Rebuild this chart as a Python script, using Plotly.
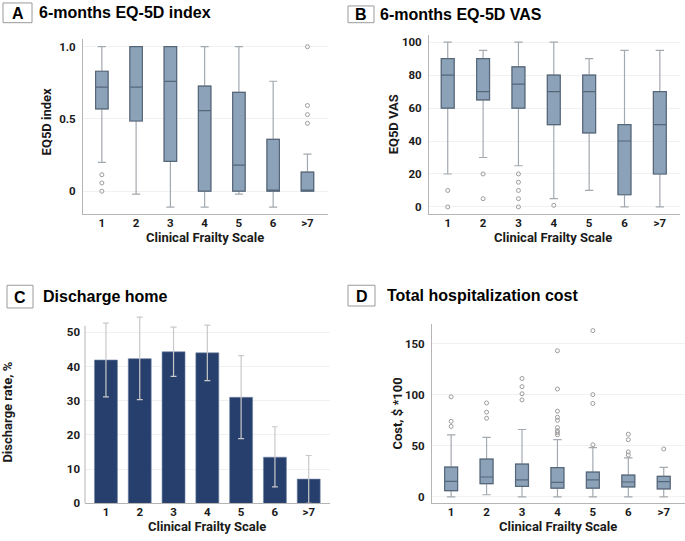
import plotly.graph_objects as go

cats = ["1", "2", "3", "4", "5", "6", ">7"]

# Panel A: EQ-5D index
a_low = [0.20, -0.02, -0.11, -0.11, -0.02, -0.11, 0.0]
a_q1 = [0.57, 0.486, 0.207, 0.0, 0.0, 0.0, 0.0]
a_med = [0.72, 0.72, 0.76, 0.557, 0.18, 0.0, 0.0]
a_q3 = [0.83, 1.0, 1.0, 0.727, 0.684, 0.359, 0.132]
a_up = [1.0, 1.0, 1.0, 1.0, 1.0, 0.761, 0.257]
a_out_x = ["1", "1", "1", ">7", ">7", ">7", ">7"]
a_out_y = [0.0, 0.057, 0.114, 0.47, 0.53, 0.593, 1.0]

# Panel B: EQ-5D VAS
b_low = [20, 30, 25, 5, 10, 0, 0]
b_q1 = [60, 65, 60, 50, 45, 7.4, 20]
b_med = [80, 70, 74.5, 70, 70, 40, 50]
b_q3 = [90, 90, 85, 80, 80, 50, 70]
b_up = [100, 95, 100, 100, 90, 95, 95]
b_out_x = ["1", "1", "2", "2", "3", "3", "3", "3", "3", "4"]
b_out_y = [10, 0, 20, 5, 20, 15, 10, 5, 0, 1]

# Panel C: discharge home rate (%) with CI
c_rate = [41.9, 42.3, 44.3, 44.0, 31.0, 13.5, 7.1]
c_ci_hi = [52.7, 54.4, 51.5, 52.1, 43.2, 22.4, 14.0]
c_ci_lo = [31.1, 30.3, 37.1, 35.9, 18.9, 4.8, 0.0]

# Panel D: total hospitalization cost ($ *100)
d_low = [0, 2, 0, 0, 0, 0, 0]
d_q1 = [6.1, 12.9, 10.3, 8.4, 8.5, 9.7, 7.8]
d_med = [15.2, 19.4, 16.5, 14.2, 16.5, 14.5, 14.9]
d_q3 = [29.1, 36.9, 32.0, 28.5, 24.2, 21.3, 20.0]
d_up = [60.8, 58.2, 66.0, 56.0, 48.2, 38.1, 28.8]
d_out_x = ["1", "1", "1", "2", "2", "2", "3", "3", "3", "3",
           "4", "4", "4", "4", "4", "4", "4", "4", "4",
           "5", "5", "5", "5", "6", "6", "6", "6", ">7"]
d_out_y = [69, 74, 98, 77, 83, 92, 95, 101, 108, 116,
           60.8, 63, 64.7, 67.9, 75, 78, 84, 105.7, 143.2,
           51, 91.5, 100.2, 163, 41, 44, 56, 61.4, 46.9]

W, H = 685, 541
BOX_FILL = "#8ba2b8"
BOX_LINE = "#56677a"
WHISK = "#a3a9b0"
OUT_COL = "#9c9c9c"
BAR_COL = "#273f6c"
TICKFONT = dict(family="Roboto", size=11.5, color="#1a1a1a", weight="bold")
TITLEFONT = dict(family="Roboto", size=13, color="#1a1a1a", weight="bold")

fig = go.Figure()


def add_box(xa, ya, low, q1, med, q3, up, ox, oy):
    # whiskers layer
    fig.add_trace(go.Box(x=cats, q1=q1, median=med, q3=q3, lowerfence=low,
                         upperfence=up, xaxis=xa, yaxis=ya, boxpoints=False,
                         fillcolor=BOX_FILL, line=dict(color=WHISK, width=1.2),
                         whiskerwidth=0.65, showlegend=False, hoverinfo="skip"))
    # box body layer (no whiskers)
    fig.add_trace(go.Box(x=cats, q1=q1, median=med, q3=q3, lowerfence=q1,
                         upperfence=q3, xaxis=xa, yaxis=ya, boxpoints=False,
                         fillcolor=BOX_FILL, line=dict(color=BOX_LINE, width=1.2),
                         whiskerwidth=0, showlegend=False))
    fig.add_trace(go.Scatter(x=ox, y=oy, mode="markers", xaxis=xa, yaxis=ya,
                             marker=dict(symbol="circle-open", size=4,
                                         color=OUT_COL, line=dict(width=1)),
                             showlegend=False))


add_box("x", "y", a_low, a_q1, a_med, a_q3, a_up, a_out_x, a_out_y)
add_box("x2", "y2", b_low, b_q1, b_med, b_q3, b_up, b_out_x, b_out_y)
add_box("x4", "y4", d_low, d_q1, d_med, d_q3, d_up, d_out_x, d_out_y)

fig.add_trace(go.Bar(x=cats, y=c_rate, xaxis="x3", yaxis="y3",
                     marker=dict(color=BAR_COL, line=dict(color="#7386a8", width=0.6)),
                     error_y=dict(type="data", symmetric=False,
                                  array=[h - r for h, r in zip(c_ci_hi, c_rate)],
                                  arrayminus=[r - l for r, l in zip(c_rate, c_ci_lo)],
                                  color="#c9c9c9", thickness=1.2, width=3),
                     showlegend=False))


def px_x(p):
    return p / W


def px_y(p):
    return 1 - p / H


def xaxis(dom, rng, anchor):
    return dict(domain=[px_x(dom[0]), px_x(dom[1])], range=rng, type="category",
                categoryorder="array", categoryarray=cats, anchor=anchor,
                showline=True, linecolor="#b5b5b5", linewidth=1,
                showgrid=False, ticks="", tickfont=TICKFONT, zeroline=False,
                ticklabelstandoff=-2)


def yaxis(dom, rng, tickvals, ticktext, anchor, showline=True):
    return dict(domain=[px_y(dom[1]), px_y(dom[0])], range=rng, anchor=anchor,
                tickvals=tickvals, ticktext=ticktext,
                showline=showline, linecolor="#b5b5b5", linewidth=1,
                showgrid=True, gridcolor="#f1f1f1", gridwidth=1,
                ticks="", tickfont=TICKFONT, zeroline=False,
                ticklabelstandoff=4)


fig.update_layout(
    width=W, height=H, margin=dict(l=0, r=0, t=0, b=0),
    paper_bgcolor="white", plot_bgcolor="white",
    boxgap=0.48, bargap=0.32, boxmode="overlay",
    xaxis=xaxis((83, 328), [-0.55, 6.6], "y"),
    yaxis=yaxis((40, 217), [-0.159, 1.05], [0, 0.5, 1.0], ["0", "0.5", "1.0"], "x"),
    xaxis2=xaxis((429, 680), [-0.53, 6.57], "y2"),
    yaxis2=yaxis((35, 217), [-4.4, 104.6], [0, 20, 40, 60, 80, 100],
                 ["0", "20", "40", "60", "80", "100"], "x2"),
    xaxis3=xaxis((85, 330), [-0.62, 6.63], "y3"),
    yaxis3=yaxis((319.3, 510), [0, 55], [0, 10, 20, 30, 40, 50],
                 ["0", "10", "20", "30", "40", "50"], "x3", showline=False),
    xaxis4=xaxis((432, 685), [-0.54, 6.6], "y4"),
    yaxis4=yaxis((328, 510), [-6.5, 169.7], [0, 50, 100, 150],
                 ["0", "50", "100", "150"], "x4"),
)

# y-axis line of panel C stops at ~52 while CI whiskers may exceed it
fig.add_shape(type="line", xref="x3 domain", yref="y3", x0=0, x1=0, y0=0, y1=51.9,
              line=dict(color="#b5b5b5", width=1))

# panel letters and titles
panels = [
    ("A", (3, 32, 3, 23), 37, "6-months EQ-5D index"),
    ("B", (348, 374, 6, 23), 378, "6-months EQ-5D VAS"),
    ("C", (7, 33, 289, 312), 41, "Discharge home"),
    ("D", (348, 375, 289, 310), 385, "Total hospitalization cost"),
]
for letter, (x0, x1, y0, y1), tx, title in panels:
    fig.add_shape(type="rect", xref="paper", yref="paper",
                  x0=px_x(x0), x1=px_x(x1), y0=px_y(y1), y1=px_y(y0),
                  line=dict(color="#9a9a9a", width=1), fillcolor="white")
    cy = (y0 + y1) / 2
    fig.add_annotation(x=px_x((x0 + x1) / 2), y=px_y(cy + 0.5), xref="paper", yref="paper",
                       text=letter, showarrow=False, xanchor="center", yanchor="middle",
                       font=dict(family="Liberation Sans", size=16, color="black", weight="bold"))
    fig.add_annotation(x=px_x(tx), y=px_y(cy), xref="paper", yref="paper",
                       text=title, showarrow=False, xanchor="left", yanchor="middle",
                       font=dict(family="Liberation Sans", size=16, color="black", weight="bold"))

# axis titles
xt = [(205, 241), (553, 241), (207, 533), (558, 533)]
for cx, cy in xt:
    fig.add_annotation(x=px_x(cx), y=px_y(cy), xref="paper", yref="paper",
                       text="Clinical Frailty Scale", showarrow=False, borderpad=0,
                       xanchor="center", yanchor="middle", font=TITLEFONT)
yt = [("EQ5D index", 46, 124), ("EQ5D VAS", 393, 126),
      ("Discharge rate, %", 8, 418), ("Cost, $ *100", 398, 419)]
for txt, cx, cy in yt:
    fig.add_annotation(x=px_x(cx), y=px_y(cy), xref="paper", yref="paper",
                       text=txt, showarrow=False, textangle=-90,
                       xanchor="center", yanchor="middle", font=TITLEFONT)

fig.write_html("out.html", config={"displayModeBar": False},
               post_script="document.body.style.margin='0';document.body.style.overflow='hidden';")
